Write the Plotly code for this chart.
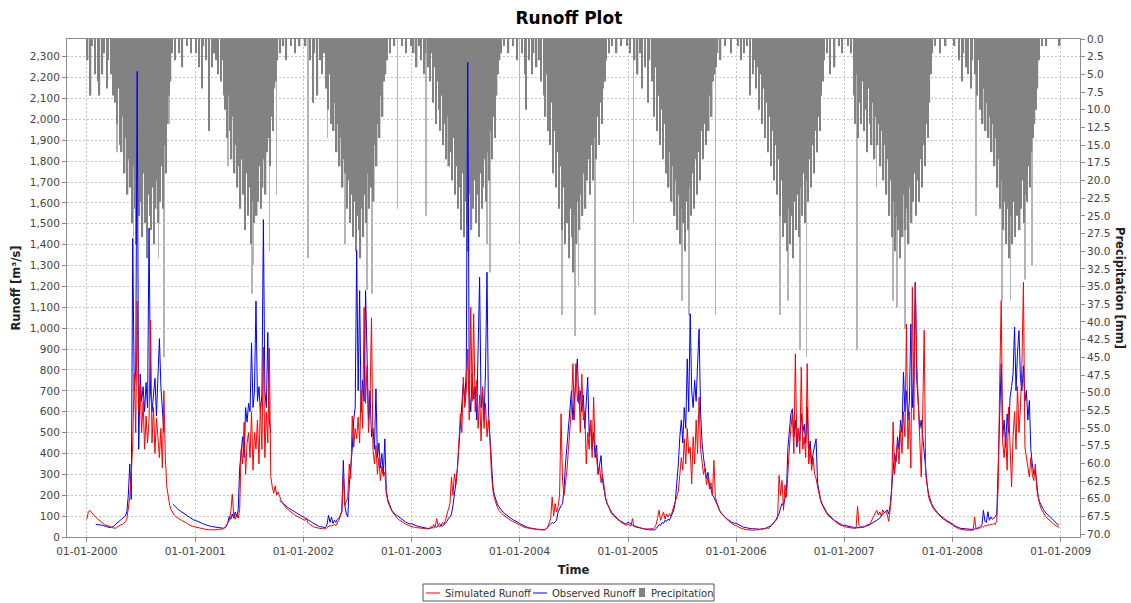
import pandas as pd
import plotly.graph_objects as go

years = list(range(2000, 2009))

# Runoff in m3/s and precipitation in mm, one value per 5-day step starting 1 January of each year
sim_2000 = [85, 120, 127, 118, 110, 102, 95, 88, 81, 75,
            70, 65, 60, 57, 54, 50, 47, 45, 43, 42,
            44, 50, 55, 58, 60, 65, 72, 85, 140, 190,
            300, 450, 780, 500, 1130, 600, 720, 500, 650, 420,
            580, 450, 560, 1040, 450, 620, 400, 570, 480, 380,
            520, 330, 700, 380, 240, 180, 150, 130, 115, 105,
            98, 92, 88, 84, 80, 77, 73, 68, 63, 58,
            55, 52, 50]
sim_2001 = [48, 45, 43, 41, 40, 38, 37, 36, 35, 35,
            34, 34, 34, 34, 35, 35, 36, 37, 38, 40,
            45, 55, 65, 80, 120, 205, 100, 85, 110, 90,
            130, 420, 350, 550, 300, 450, 500, 380, 600, 320,
            500, 420, 560, 350, 640, 420, 910, 380, 600, 450,
            905, 290, 240, 210, 245, 200, 215, 190, 175, 165,
            150, 142, 135, 128, 122, 117, 112, 107, 102, 98,
            94, 90, 87]
sim_2002 = [85, 80, 92, 70, 62, 56, 52, 48, 46, 44,
            42, 41, 40, 40, 39, 38, 45, 50, 55, 52,
            58, 60, 55, 65, 80, 100, 130, 300, 150, 170,
            190, 350, 280, 580, 430, 520, 470, 575, 450, 700,
            520, 1100, 640, 820, 500, 650, 1050, 420, 350, 440,
            300, 380, 270, 340, 290, 310, 210, 170, 150, 135,
            122, 110, 100, 92, 85, 80, 75, 70, 66, 62,
            58, 55, 52]
sim_2003 = [50, 48, 46, 45, 44, 43, 42, 41, 40, 40,
            39, 39, 40, 50, 45, 60, 48, 88, 55, 65,
            50, 70, 62, 80, 110, 130, 160, 287, 200, 303,
            250, 319, 450, 590, 500, 765, 620, 700, 900, 560,
            1100, 650, 1069, 600, 750, 520, 680, 460, 720, 520,
            640, 480, 560, 462, 303, 223, 185, 160, 142, 128,
            118, 112, 106, 100, 95, 90, 85, 80, 76, 72,
            68, 64, 61]
sim_2004 = [56, 52, 49, 47, 45, 43, 42, 41, 40, 39,
            38, 37, 37, 36, 36, 35, 35, 36, 38, 45,
            70, 90, 191, 100, 160, 120, 144, 200, 590, 270,
            200, 250, 320, 420, 520, 620, 830, 560, 830, 650,
            720, 500, 780, 560, 600, 350, 500, 420, 560, 380,
            670, 430, 380, 300, 340, 260, 300, 230, 191, 165,
            145, 130, 112, 104, 97, 90, 84, 78, 73, 68,
            64, 60, 57]
sim_2005 = [60, 55, 52, 88, 50, 48, 46, 44, 42, 41,
            40, 39, 38, 38, 37, 37, 38, 40, 45, 60,
            90, 128, 80, 100, 120, 85, 110, 95, 112, 100,
            130, 150, 170, 191, 220, 300, 380, 320, 470, 350,
            520, 400, 430, 255, 480, 350, 560, 400, 670, 420,
            350, 300, 330, 250, 290, 230, 260, 200, 367, 190,
            165, 140, 125, 112, 104, 96, 88, 82, 76, 70,
            65, 60, 56]
sim_2006 = [56, 50, 46, 43, 40, 38, 36, 35, 34, 33,
            32, 32, 32, 36, 33, 38, 34, 40, 36, 42,
            38, 44, 40, 48, 55, 64, 72, 80, 90, 295,
            200, 271, 128, 250, 191, 350, 430, 520, 590, 400,
            877, 450, 520, 400, 813, 420, 480, 380, 830, 350,
            420, 319, 380, 300, 280, 240, 200, 175, 155, 140,
            128, 115, 105, 98, 90, 84, 78, 72, 67, 62,
            58, 54, 51]
sim_2007 = [50, 48, 46, 45, 44, 43, 42, 41, 42, 147,
            55, 50, 48, 52, 50, 56, 60, 58, 72, 80,
            95, 110, 128, 105, 120, 100, 130, 115, 125, 110,
            75, 130, 209, 550, 300, 380, 450, 350, 510, 400,
            600, 480, 1020, 420, 600, 330, 1196, 560, 1220, 830,
            670, 450, 287, 600, 990, 303, 230, 191, 170, 151,
            138, 128, 120, 110, 102, 96, 91, 86, 80, 75,
            70, 67, 64]
sim_2008 = [58, 52, 47, 43, 40, 38, 36, 35, 34, 33,
            33, 32, 32, 32, 33, 96, 40, 38, 45, 42,
            50, 48, 55, 52, 60, 55, 62, 58, 65, 60,
            80, 250, 750, 1132, 450, 380, 500, 320, 622, 400,
            240, 480, 600, 420, 720, 500, 620, 830, 1220, 430,
            380, 330, 287, 380, 300, 270, 350, 230, 180, 155,
            135, 120, 108, 98, 90, 83, 76, 70, 64, 58,
            54, 50, 46]

obs_2000 = [None, None, None, None, None, None, 60, 60, 59, 58,
            57, 55, 52, 50, 48, 46, 45, 46, 50, 58,
            65, 72, 78, 82, 88, 95, 100, 120, 200, 350,
            180, 1430, 700, 800, 2230, 420, 780, 650, 720, 600,
            740, 620, 1480, 700, 600, 680, 760, 580, 800, 950,
            720, 620, 500, None, None, None, None, None, 158, 150,
            143, 136, 130, 125, 120, 114, 108, 103, 99, 95,
            90, 86, 82]
obs_2001 = [80, 76, 73, 70, 67, 64, 61, 58, 56, 54,
            52, 50, 49, 47, 46, 45, 44, 43, 42, 42,
            45, 50, 70, 100, 85, 110, 90, 120, 95, 130,
            330, 400, 480, 380, 620, 550, 640, 600, 930, 620,
            700, 1130, 650, 720, 600, 680, 1520, 700, 620, 980,
            560, 500, None, None, None, None, None, 175, 168, 160,
            154, 149, 144, 139, 134, 129, 124, 120, 116, 112,
            108, 104, 100]
obs_2002 = [98, 94, 90, 86, 80, 74, 69, 64, 60, 56,
            53, 50, 48, 47, 46, 45, 60, 104, 70, 95,
            65, 80, 70, 85, 90, 110, 120, 367, 150, 110,
            96, 250, 335, 420, 560, 622, 1372, 700, 1180, 600,
            750, 650, 1180, 800, 560, 700, 480, 520, 420, 710,
            380, 450, 330, 400, 300, 470, 220, 180, 155, 140,
            125, 115, 108, 104, 98, 92, 86, 80, 76, 72,
            68, 65, 62]
obs_2003 = [64, 60, 57, 54, 52, 50, 48, 46, 44, 43,
            42, 41, 40, 42, 45, 43, 50, 46, 55, 48,
            60, 52, 58, 65, 75, 90, 96, 110, 150, 200,
            260, 330, 420, 510, 600, 734, 650, 800, 2273, 700,
            600, 780, 660, 720, 560, 850, 1244, 620, 700, 560,
            800, 1268, 600, 480, 330, 240, 200, 175, 158, 145,
            135, 126, 118, 112, 106, 100, 96, 90, 85, 81,
            78, 75, 72]
obs_2004 = [66, 61, 57, 53, 50, 47, 45, 43, 41, 40,
            38, 37, 36, 35, 34, 33, 33, 34, 40, 50,
            56, 62, 70, 65, 75, 80, 120, 140, 150, 160,
            230, 350, 430, 510, 600, 700, 560, 650, 720, 853,
            640, 700, 600, 680, 520, 620, 765, 480, 560, 420,
            500, 380, 440, 300, 350, 390, 270, 220, 185, 160,
            145, 132, 120, 110, 102, 95, 88, 82, 77, 72,
            68, 64, 61]
obs_2005 = [72, 66, 61, 57, 54, 51, 48, 46, 44, 42,
            40, 38, 37, 36, 35, 34, 33, 33, 34, 40,
            50, 60, 55, 70, 65, 80, 75, 85, 80, 95,
            110, 130, 175, 250, 350, 480, 560, 450, 620, 520,
            853, 600, 1069, 700, 620, 750, 650, 830, 997, 600,
            450, 380, 330, 280, 310, 250, 230, 200, 191, 175,
            155, 138, 125, 115, 106, 98, 92, 86, 80, 75,
            71, 68, 65]
obs_2006 = [67, 62, 57, 53, 50, 47, 45, 43, 42, 41,
            40, 40, 39, 38, 38, 37, 37, 38, 38, 40,
            42, 45, 48, 52, 58, 65, 75, 85, 95, 110,
            140, 160, 150, 180, 220, 430, 520, 590, 614, 480,
            560, 430, 520, 460, 590, 500, 540, 450, 622, 400,
            460, 350, 400, 430, 470, 260, 210, 180, 160, 145,
            132, 120, 110, 102, 95, 88, 82, 77, 72, 67,
            63, 59, 56]
obs_2007 = [56, 54, 52, 50, 48, 47, 46, 45, 44, 44,
            43, 45, 47, 46, 50, 52, 55, 58, 62, 66,
            70, 75, 80, 85, 90, 100, 108, 115, 122, 130,
            110, 150, 230, 330, 400, 360, 480, 420, 560, 500,
            789, 600, 700, 560, 650, 1020, 620, 800, 1220, 750,
            600, 520, 560, 480, 420, 330, 250, 205, 180, 160,
            145, 134, 125, 116, 108, 101, 96, 90, 85, 80,
            76, 72, 69]
obs_2008 = [65, 58, 52, 48, 45, 43, 41, 40, 39, 38,
            38, 37, 37, 36, 36, 38, 40, 42, 45, 50,
            60, 128, 75, 70, 121, 80, 96, 85, 90, 96,
            110, 383, 622, 830, 480, 560, 430, 590, 500, 670,
            720, 780, 1005, 700, 885, 989, 760, 700, 820, 650,
            702, 560, 654, 420, 350, 300, 320, 240, 190, 167,
            150, 138, 126, 116, 108, 104, 96, 88, 80, 73,
            67, 61, 56]

precip_2000 = [3, 0, 8, 1, 0, 5, 0, 6, 8, 0,
               5, 2, 0, 7, 3, 0, 5, 8, 0, 9,
               12, 7, 15, 16, 11, 19, 14, 22, 17, 21,
               26, 18, 24, 29, 20, 25, 23, 28, 19, 26,
               31, 22, 25, 27, 21, 29, 24, 20, 26, 23,
               18, 24, 15, 19, 12, 8, 6, 2, 0, 3,
               0, 0, 2, 0, 4, 0, 0, 1, 0, 0,
               2, 0, 0]
precip_2001 = [2, 0, 4, 0, 7, 1, 0, 3, 0, 13,
               0, 4, 2, 0, 3, 5, 0, 6, 3, 8,
               10, 14, 8, 13, 17, 11, 19, 15, 21, 18,
               24, 17, 22, 27, 19, 25, 21, 29, 23, 26,
               20, 25, 23, 18, 24, 21, 17, 22, 16, 14,
               18, 11, 13, 7, 6, 3, 0, 2, 0, 1,
               0, 3, 0, 0, 1, 0, 0, 2, 0, 0,
               1, 0, 0]
precip_2002 = [0, 1, 0, 0, 3, 0, 9, 2, 0, 8,
               0, 3, 5, 2, 2, 7, 10, 5, 12, 7,
               13, 9, 16, 12, 18, 14, 21, 17, 19, 24,
               20, 26, 22, 28, 23, 30, 25, 27, 31, 24,
               28, 22, 26, 19, 24, 21, 17, 23, 15, 18,
               12, 14, 8, 11, 6, 5, 3, 0, 2, 0,
               0, 1, 0, 0, 0, 0, 1, 0, 0, 2,
               0, 0, 1]
precip_2003 = [0, 2, 0, 4, 0, 1, 3, 0, 5, 2,
               0, 4, 6, 2, 9, 4, 12, 6, 10, 13,
               8, 15, 12, 17, 11, 18, 16, 20, 14, 22,
               18, 24, 21, 27, 19, 28, 23, 26, 30, 22,
               27, 24, 20, 26, 22, 28, 19, 24, 21, 17,
               23, 16, 20, 13, 17, 11, 14, 8, 5, 3,
               2, 0, 1, 0, 0, 2, 0, 0, 1, 0,
               0, 3, 0]
precip_2004 = [0, 2, 0, 5, 10, 0, 3, 0, 5, 2,
               0, 4, 0, 3, 6, 0, 8, 11, 5, 13,
               15, 9, 19, 13, 21, 16, 24, 18, 27, 21,
               29, 23, 26, 31, 24, 28, 33, 25, 29, 23,
               27, 22, 25, 19, 24, 20, 17, 22, 15, 20,
               14, 17, 11, 15, 9, 12, 7, 6, 3, 0,
               2, 0, 1, 0, 0, 2, 0, 0, 1, 0,
               0, 0, 1]
precip_2005 = [0, 2, 0, 0, 3, 0, 5, 0, 2, 7,
               0, 4, 0, 9, 3, 0, 6, 11, 4, 13,
               8, 15, 10, 17, 12, 19, 14, 21, 16, 23,
               18, 25, 20, 27, 22, 29, 24, 26, 30, 23,
               27, 21, 25, 19, 24, 17, 22, 16, 20, 13,
               17, 12, 15, 10, 13, 8, 11, 6, 5, 4,
               2, 0, 3, 0, 0, 1, 0, 0, 0, 2,
               0, 0, 0]
precip_2006 = [0, 1, 0, 3, 0, 2, 0, 1, 0, 8,
               0, 5, 3, 7, 4, 10, 5, 12, 7, 14,
               9, 16, 11, 18, 13, 20, 15, 22, 17, 25,
               20, 28, 23, 26, 30, 24, 29, 25, 31, 23,
               27, 22, 28, 21, 25, 19, 26, 20, 23, 17,
               21, 15, 19, 13, 16, 11, 13, 8, 6, 3,
               0, 2, 0, 5, 0, 0, 4, 0, 0, 1,
               0, 2, 0]
precip_2007 = [0, 0, 1, 0, 2, 0, 8, 12, 5, 14,
               9, 12, 6, 13, 10, 16, 7, 12, 15, 9,
               17, 11, 15, 12, 18, 13, 20, 15, 22, 17,
               25, 20, 28, 23, 30, 25, 27, 31, 24, 28,
               22, 27, 24, 29, 21, 26, 23, 19, 25, 20,
               23, 17, 21, 15, 18, 12, 14, 9, 5, 2,
               0, 1, 0, 0, 2, 0, 0, 0, 1, 0,
               0, 0, 0]
precip_2008 = [0, 1, 0, 0, 3, 0, 6, 2, 0, 4,
               5, 0, 7, 3, 0, 5, 8, 3, 10, 6,
               12, 7, 13, 9, 14, 11, 16, 12, 18, 14,
               21, 17, 24, 20, 27, 23, 29, 24, 31, 25,
               29, 23, 28, 25, 21, 27, 24, 20, 26, 22,
               23, 18, 21, 16, 14, 12, 10, 7, 3, 0,
               1, 0, 0, 1, 0, 0, 0, 0, 0, 0,
               0, 0, 1]

# single wet days that reach further down than the bulk of the season
peak_dates = ["2000-04-12", "2000-06-06", "2000-08-13", "2000-08-30", "2000-09-18", "2000-10-04",
              "2001-04-22", "2001-06-20", "2001-07-11", "2001-07-16", "2001-09-08", "2001-10-02",
              "2002-01-16", "2002-03-23", "2002-05-22", "2002-08-03", "2002-08-20", "2002-11-15",
              "2003-02-20", "2003-05-02", "2003-07-07", "2003-09-13", "2003-09-24",
              "2004-01-01", "2004-05-23", "2004-07-07", "2004-07-18", "2004-09-12",
              "2005-01-19", "2005-04-28", "2005-07-02", "2005-07-25", "2005-10-23",
              "2006-05-30", "2006-06-25", "2006-08-05", "2006-08-26", "2006-10-01",
              "2007-02-13", "2007-04-20", "2007-06-15", "2007-06-28", "2007-07-25",
              "2008-03-21", "2008-06-16", "2008-07-16", "2008-09-02", "2008-09-26"]
peak_mm = [16, 28, 29, 31, 45, 12,
           18, 27, 36, 32, 30, 22,
           31, 14, 29, 35.5, 36, 24,
           25, 18, 30, 29, 33,
           29, 39, 42, 35, 39,
           26, 16, 37, 39, 39,
           39, 37, 44, 45, 16,
           44, 21, 37, 38, 41,
           25, 37, 37, 34, 32]

sim_by_year = [sim_2000, sim_2001, sim_2002, sim_2003, sim_2004,
               sim_2005, sim_2006, sim_2007, sim_2008]
obs_by_year = [obs_2000, obs_2001, obs_2002, obs_2003, obs_2004,
               obs_2005, obs_2006, obs_2007, obs_2008]
precip_by_year = [precip_2000, precip_2001, precip_2002, precip_2003, precip_2004,
                  precip_2005, precip_2006, precip_2007, precip_2008]

dates = []
for yr in years:
    dates.extend(pd.date_range(f"{yr}-01-01", periods=73, freq="5D"))

sim = [v for vals in sim_by_year for v in vals]
obs = [v for vals in obs_by_year for v in vals]
precip = [v for vals in precip_by_year for v in vals]

DAY_MS = 86400000
GRID = "#c4c4c4"
AXIS = "#8c8c8c"
RED, BLUE, GREY = "#ff0000", "#0000ff", "#828282"

# plot area in page pixels: x 67..1080, y 39..537
L, R, T, B = 67, 1080, 39, 537


def px(x, y):
    # page pixel -> paper coordinates, for the legend box below the plot
    return (x - L) / (R - L), (B - y) / (B - T)


fig = go.Figure()

# precipitation hangs from the top on the reversed right axis
fig.add_trace(go.Bar(
    x=peak_dates, y=peak_mm, yaxis="y",
    width=2 * DAY_MS, offset=-DAY_MS,
    marker=dict(color="#b4b4b4", line_width=0),
    showlegend=False, hoverinfo="skip",
))
fig.add_trace(go.Bar(
    x=dates, y=precip, yaxis="y", name="Precipitation",
    width=5 * DAY_MS, offset=0,
    marker=dict(color=GREY, line_width=0), showlegend=False,
))
fig.add_trace(go.Scatter(
    x=dates, y=obs, yaxis="y2", name="Observed Runoff", mode="lines",
    line=dict(color=BLUE, width=1), showlegend=False,
))
fig.add_trace(go.Scatter(
    x=dates, y=sim, yaxis="y2", name="Simulated Runoff", mode="lines",
    line=dict(color=RED, width=1), showlegend=False,
))

fig.update_layout(
    width=1131, height=603,
    margin=dict(l=L, r=1131 - R, t=T, b=603 - B, autoexpand=False),
    paper_bgcolor="white", plot_bgcolor="white",
    font=dict(family="DejaVu Sans", size=10.5, color="#444444"),
    title=dict(text="<b>Runoff Plot</b>", x=0.503, xanchor="center",
               y=0.97, yanchor="middle", font=dict(size=17, color="black")),
    barmode="overlay",
    showlegend=False,
    xaxis=dict(
        type="date", range=["1999-10-26", "2009-03-07"],
        tickvals=[f"{y}-01-01" for y in range(2000, 2010)], tickformat="%d-%m-%Y",
        showgrid=True, gridcolor=GRID, griddash="2px,2px",
        ticks="outside", ticklen=4, tickcolor=AXIS,
        showline=True, linecolor=AXIS, mirror=True,
        title=dict(text="<b>Time</b>", font=dict(size=11.5, color="#222222"), standoff=10),
    ),
    yaxis=dict(
        range=[70.4, 0], side="right", tick0=0, dtick=2.5, tickformat=".1f",
        showgrid=False, zeroline=False,
        ticks="outside", ticklen=4, tickcolor=AXIS,
        showline=True, linecolor=AXIS,
    ),
    yaxis2=dict(
        range=[0, 2385], overlaying="y", side="left", tick0=0, dtick=100, tickformat=",d",
        showgrid=True, gridcolor=GRID, griddash="2px,2px", zeroline=False,
        ticks="outside", ticklen=4, tickcolor=AXIS,
        showline=True, linecolor=AXIS,
        title=dict(text="<b>Runoff [m³/s]</b>", font=dict(size=11.5, color="#222222"), standoff=6),
    ),
)

fig.add_annotation(
    text="<b>Precipitation [mm]</b>", xref="paper", yref="paper",
    x=1.0395, y=0.5, xanchor="center", yanchor="middle", textangle=90, showarrow=False,
    font=dict(size=11.5, color="#222222"),
)

# compact JFreeChart-style legend strip under the axis title
x0, y0 = px(423, 601)
x1, y1 = px(714, 584)
fig.add_shape(type="rect", xref="paper", yref="paper", x0=x0, y0=y0, x1=x1, y1=y1,
              line=dict(color="#555555", width=1), fillcolor="white")
legend_items = [("Simulated Runoff", RED, "line", 426, 443),
                ("Observed Runoff", BLUE, "line", 533, 550),
                ("Precipitation", GREY, "bar", 639, 649)]
_, ymid = px(0, 593)
for label, colour, kind, sx, tx in legend_items:
    if kind == "line":
        a, _ = px(sx, 0)
        b, _ = px(sx + 14, 0)
        fig.add_shape(type="line", xref="paper", yref="paper", x0=a, x1=b, y0=ymid, y1=ymid,
                      line=dict(color=colour, width=1))
    else:
        a, ya = px(sx, 597)
        b, yb = px(sx + 6, 588)
        fig.add_shape(type="rect", xref="paper", yref="paper", x0=a, x1=b, y0=ya, y1=yb,
                      line=dict(width=0), fillcolor=colour)
    t, _ = px(tx, 0)
    fig.add_annotation(text=label, xref="paper", yref="paper", x=t, y=ymid,
                       xanchor="left", yanchor="middle", showarrow=False,
                       font=dict(size=10, color="#333333"))

# the page's default body margin would push the chart off the 1131x603 window
fig.write_html("out.html", config={"displayModeBar": False},
               post_script="document.body.style.margin = '0px';")
